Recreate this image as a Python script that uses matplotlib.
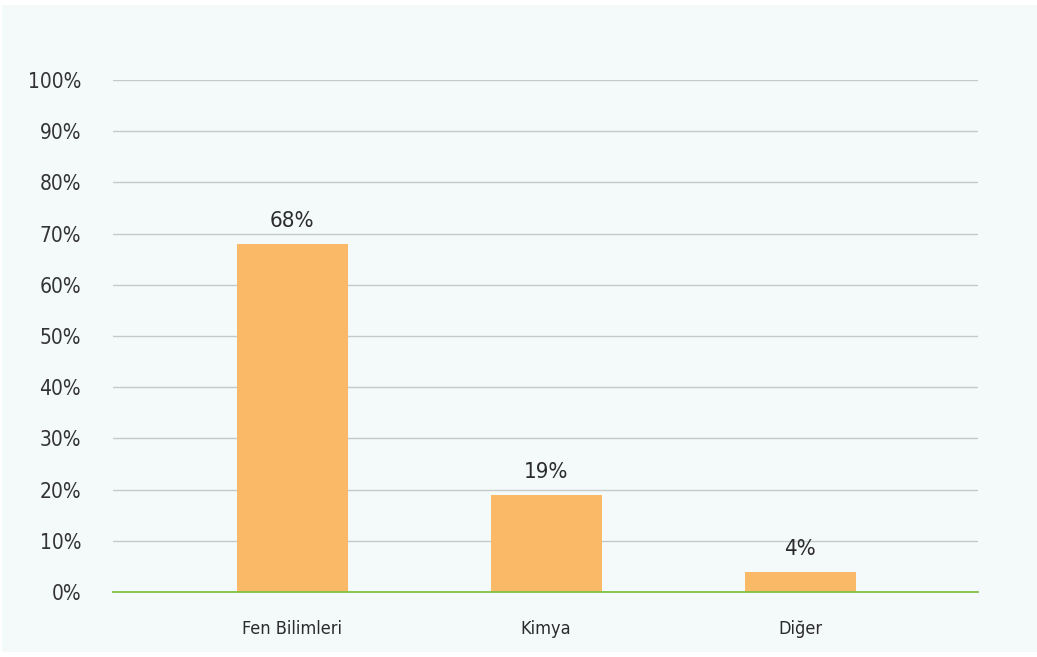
import matplotlib
matplotlib.use("Agg")
import matplotlib.pyplot as plt
from matplotlib.patches import Rectangle

categories = ["Fen Bilimleri", "Kimya", "Diğer"]
shares = [68, 19, 4]
y_ticks = [0, 10, 20, 30, 40, 50, 60, 70, 80, 90, 100]

plt.rcParams["font.family"] = ["DejaVu Sans"]
plt.rcParams["font.stretch"] = "condensed"

fig = plt.figure(figsize=(10.37, 6.57), dpi=100)
fig.patch.set_facecolor("white")
# light panel behind the chart
panel = Rectangle((2 / 1037, 5 / 657), 1 - 2 / 1037, 1 - 10 / 657,
                  transform=fig.transFigure, facecolor="#f4f9f9",
                  edgecolor="none", zorder=-10)
fig.add_artist(panel)

ax = fig.add_axes([113 / 1037, 65 / 657, 865 / 1037, 512 / 657])
ax.set_facecolor("none")
ax.set_zorder(1)

x = list(range(len(categories)))
ax.bar(x, shares, width=0.437, color="#f9b966", zorder=3)
for xi, v in zip(x, shares):
    ax.annotate(f"{v}%", (xi, v), xytext=(0, 9), textcoords="offset points",
                ha="center", va="bottom", fontsize=16, color="#2b2b2b")

ax.set_xlim(-0.705, 2.70)
ax.set_ylim(0, 100)
ax.set_yticks(y_ticks)
ax.set_yticklabels([f"{t}%" for t in y_ticks], fontsize=15, color="#333333")
ax.set_xticks(x)
ax.set_xticklabels(categories, fontsize=13, color="#2b2b2b")
ax.tick_params(axis="both", length=0)
ax.tick_params(axis="y", pad=23)
ax.tick_params(axis="x", pad=20)

for t in y_ticks[1:]:
    ax.axhline(t, color="#c5c9ca", linewidth=1, zorder=1)
ax.axhline(0, color="#7cc243", linewidth=1.3, zorder=4, clip_on=False)

for s in ax.spines.values():
    s.set_visible(False)

fig.savefig("out.png", dpi=100)
